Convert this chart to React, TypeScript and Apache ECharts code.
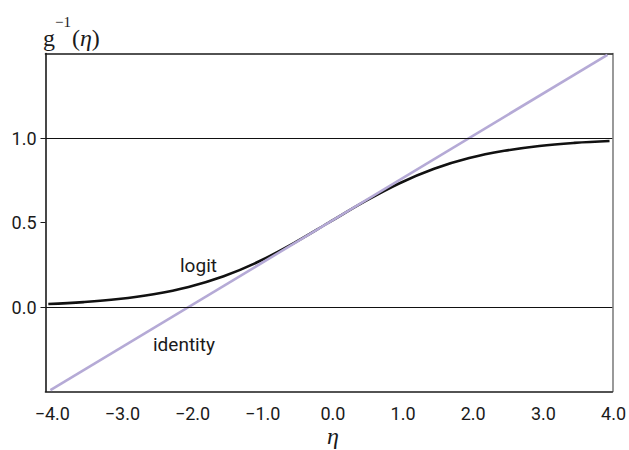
import React, { useEffect, useRef } from "react";
import * as echarts from "echarts";

// Linear predictor values (eta) where the curves are sampled
const etaValues = [-4, -3.5, -3, -2.5, -2, -1.5, -1, -0.5, 0, 0.5, 1, 1.5, 2, 2.5, 3, 3.5, 4];
// Inverse link: logit (logistic curve)
const logitValues = [0.018, 0.029, 0.047, 0.076, 0.119, 0.182, 0.269, 0.378, 0.5, 0.622, 0.731, 0.818, 0.881, 0.924, 0.953, 0.971, 0.982];
// Inverse link: identity (straight line through 0.5 with slope 1/4)
const identityEta = [-3.97, 3.97];
const identityValues = [-0.4925, 1.4925];
// Tick values on each axis
const xTicks = [-4, -3, -2, -1, 0, 1, 2, 3, 4];
const yTicks = [0, 0.5, 1];
// Horizontal reference lines
const refLines = [0, 1];

const SANS = "Roboto, 'Liberation Sans', sans-serif";
const SERIF = "'Liberation Serif', 'DejaVu Serif', serif";
const INK = "#1a1a1a";

export default function App() {
  const ref = useRef<HTMLDivElement>(null);

  useEffect(() => {
    if (!ref.current) return;
    const chart = echarts.init(ref.current, undefined, { renderer: "svg" });

    const grid = { left: 45.5, top: 53.5, width: 568, height: 338 };

    chart.setOption({
      animation: false,
      backgroundColor: "#fff",
      grid: { ...grid, containLabel: false },
      xAxis: [
        {
          type: "value",
          min: -4.04,
          max: 4.04,
          position: "bottom",
          axisLine: { show: true, onZero: false, lineStyle: { color: INK, width: 1.6 } },
          axisTick: { show: false },
          splitLine: { show: false },
          axisLabel: {
            customValues: xTicks,
            formatter: (v: number) => (v < 0 ? "\u2212" + Math.abs(v).toFixed(1) : v.toFixed(1)),
            color: INK,
            fontFamily: SANS,
            fontSize: 18,
            margin: 13,
            padding: [0, 0, 0, 8],
          },
        },
        {
          type: "value",
          min: -4.04,
          max: 4.04,
          position: "top",
          axisLine: { show: true, onZero: false, lineStyle: { color: INK, width: 1.6 } },
          axisTick: { show: false },
          axisLabel: { show: false },
          splitLine: { show: false },
        },
      ],
      yAxis: [
        {
          type: "value",
          min: -0.5,
          max: 1.5,
          position: "left",
          axisLine: { show: true, onZero: false, lineStyle: { color: INK, width: 1.6 } },
          axisTick: { show: true, customValues: yTicks, length: 5, lineStyle: { color: INK, width: 1 } },
          splitLine: { show: false },
          axisLabel: {
            customValues: yTicks,
            formatter: (v: number) => v.toFixed(1),
            color: INK,
            fontFamily: SANS,
            fontSize: 18,
            margin: 9,
            padding: [0, 0, 4, 0],
          },
        },
        {
          type: "value",
          min: -0.5,
          max: 1.5,
          position: "right",
          axisLine: { show: true, onZero: false, lineStyle: { color: "#808080", width: 1.6 } },
          axisTick: { show: false },
          axisLabel: { show: false },
          splitLine: { show: false },
        },
      ],
      series: [
        {
          name: "logit",
          type: "line",
          data: etaValues.map((x, i) => [x, logitValues[i]]),
          smooth: 0.4,
          symbol: "none",
          lineStyle: { color: "#111", width: 2.6 },
          markLine: {
            silent: true,
            symbol: "none",
            label: { show: false },
            lineStyle: { color: "#111", width: 1, type: "solid" },
            data: refLines.map((y) => ({ yAxis: y })),
          },
          z: 3,
        },
        {
          name: "identity",
          type: "line",
          data: identityEta.map((x, i) => [x, identityValues[i]]),
          symbol: "none",
          lineStyle: { color: "#b5aad6", width: 2.6 },
          z: 4,
        },
      ],
      graphic: [
        {
          type: "text",
          left: 180,
          top: 256,
          style: { text: "logit", font: `19px ${SANS}`, fill: INK },
        },
        {
          type: "text",
          left: 153,
          top: 335,
          style: { text: "identity", font: `19px ${SANS}`, fill: INK },
        },
        {
          // y-axis title: g^-1(eta)
          type: "text",
          x: 43,
          y: 14,
          style: {
            text: "{g|g}{sup|\u22121}{t|(}{eta|\u03b7}{t|)}",
            fill: INK,
            textVerticalAlign: "top",
            rich: {
              g: { fontFamily: SERIF, fontSize: 24, lineHeight: 36, verticalAlign: "bottom" },
              sup: { fontFamily: SERIF, fontSize: 15, lineHeight: 14, verticalAlign: "top", padding: [0, 1, 0, 0] },
              t: { fontFamily: SERIF, fontSize: 24, lineHeight: 36, verticalAlign: "bottom" },
              eta: { fontFamily: SERIF, fontStyle: "italic", fontSize: 24, lineHeight: 36, verticalAlign: "bottom" },
            },
          },
        },
        {
          type: "text",
          x: 333,
          y: 436,
          style: {
            text: "\u03b7",
            font: `italic 24px ${SERIF}`,
            fill: INK,
            textAlign: "center",
            textVerticalAlign: "middle",
          },
        },
      ],
    });

    return () => chart.dispose();
  }, []);

  return (
    <div
      ref={ref}
      style={{ position: "fixed", left: 0, top: 0, width: 629, height: 450, background: "#fff" }}
    />
  );
}
